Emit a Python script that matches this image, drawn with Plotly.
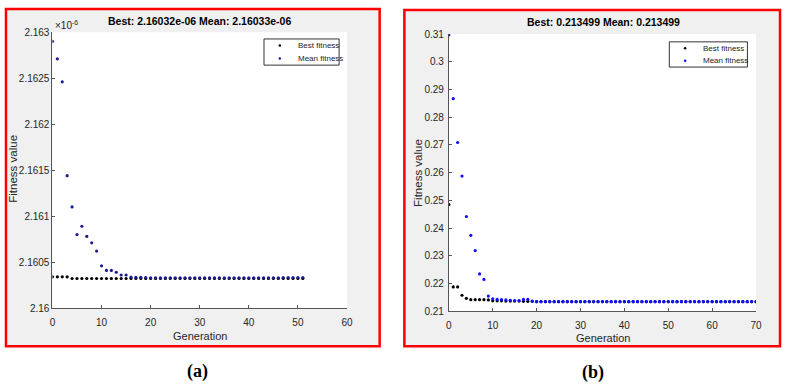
import plotly.graph_objects as go

W, H = 789, 391

# ---------------- data ----------------
gen_a = list(range(0, 52))
best_a = [2.160340] * 4 + [2.160322] * 48          # x 1e-6
mean_a = [2.16290, 2.16271, 2.16246, 2.16144, 2.16110, 2.16080, 2.16089, 2.16078,
          2.16071, 2.16062, 2.16046, 2.16041, 2.16041, 2.16039, 2.16036, 2.16036,
          2.160336, 2.160335, 2.160335, 2.160333] + [2.16033] * 27 + [2.160333] * 5

gen_b = list(range(0, 71))
best_b = [0.2485, 0.2188, 0.2188, 0.2158, 0.2147, 0.2142, 0.2142, 0.2142, 0.2142,
          0.2141, 0.2138, 0.2138, 0.2138, 0.2137, 0.2137, 0.2137, 0.2137, 0.2136,
          0.2136, 0.2136] + [0.2135] * 51
mean_b = [0.3097, 0.2867, 0.2709, 0.2588, 0.2442, 0.2374, 0.2319, 0.2235, 0.2215,
          0.2155, 0.2145, 0.2143, 0.2142, 0.2141, 0.2140, 0.2139, 0.2139, 0.2143,
          0.2143, 0.2137] + [0.2135] * 51

yt_a = [2.16, 2.1605, 2.161, 2.1615, 2.162, 2.1625, 2.163]
yt_a_txt = ["2.16", "2.1605", "2.161", "2.1615", "2.162", "2.1625", "2.163"]
yt_b = [0.21, 0.22, 0.23, 0.24, 0.25, 0.26, 0.27, 0.28, 0.29, 0.30, 0.31]
yt_b_txt = ["0.21", "0.22", "0.23", "0.24", "0.25", "0.26", "0.27", "0.28", "0.29", "0.3", "0.31"]
xt_a = [0, 10, 20, 30, 40, 50, 60]
xt_b = [0, 10, 20, 30, 40, 50, 60, 70]

series_names = ["Best fitness", "Mean fitness"]
title_a = "Best: 2.16032e-06 Mean: 2.16033e-06"
title_b = "Best: 0.213499 Mean: 0.213499"

# ---------------- helpers ----------------
def px(x):
    return x / W

def py(y):
    return 1 - y / H

FONT = "Liberation Sans, Arial, sans-serif"
TXT = "#262626"
MS = 3.2

fig = go.Figure()

fig.add_trace(go.Scatter(x=gen_a, y=best_a, mode="markers", name=series_names[0],
                         marker=dict(color="black", size=MS), xaxis="x", yaxis="y"))
fig.add_trace(go.Scatter(x=gen_a, y=mean_a, mode="markers", name=series_names[1],
                         marker=dict(color="#1c1c8c", size=MS), xaxis="x", yaxis="y"))
fig.add_trace(go.Scatter(x=gen_b, y=best_b, mode="markers", name=series_names[0],
                         marker=dict(color="black", size=MS), xaxis="x2", yaxis="y2"))
fig.add_trace(go.Scatter(x=gen_b, y=mean_b, mode="markers", name=series_names[1],
                         marker=dict(color="#1010ff", size=MS), xaxis="x2", yaxis="y2"))

axis_common = dict(showgrid=False, zeroline=False, showline=True, linecolor="#555555",
                   linewidth=1, ticks="inside", ticklen=3, tickcolor="#555555",
                   tickfont=dict(family=FONT, size=10, color=TXT), mirror=False)

fig.update_layout(
    width=W, height=H, margin=dict(l=0, r=0, t=0, b=0),
    paper_bgcolor="white", plot_bgcolor="white", showlegend=False,
    xaxis=dict(domain=[px(50), px(348)], range=[0, 60], tickvals=xt_a,
               anchor="y", ticklabelstandoff=5, **axis_common),
    yaxis=dict(domain=[py(311.7), py(27)], range=[2.16, 2.163], tickvals=yt_a,
               ticktext=yt_a_txt, anchor="x", **axis_common),
    xaxis2=dict(domain=[px(451), px(761.7)], range=[0, 70], tickvals=xt_b,
                anchor="y2", ticklabelstandoff=5, **axis_common),
    yaxis2=dict(domain=[py(315), py(29)], range=[0.21, 0.31], tickvals=yt_b,
                ticktext=yt_b_txt, anchor="x2", ticklabelstandoff=2, **axis_common),
)

shapes = []
# panel frames (gray figure area with red border)
for x0, y0, x1, y1 in [(3, 3, 381, 351), (406, 4, 786, 351)]:
    shapes.append(dict(type="rect", x0=px(x0), y0=py(y1), x1=px(x1), y1=py(y0),
                       fillcolor="#f0f0f0", line=dict(color="#ff0000", width=2.5)))
# white plot areas
for x0, y0, x1, y1 in [(50, 27, 348, 311.7), (451, 29, 761.7, 315)]:
    shapes.append(dict(type="rect", x0=px(x0), y0=py(y1), x1=px(x1), y1=py(y0),
                       fillcolor="white", line=dict(width=0)))
# legend boxes
legend_boxes = [(264, 34, 340, 61, "#1c1c8c"), (674, 37, 753, 63, "#1010ff")]
ann = []
for (x0, y0, x1, y1, mc) in legend_boxes:
    shapes.append(dict(type="rect", x0=px(x0), y0=py(y1), x1=px(x1), y1=py(y0),
                       fillcolor="white", line=dict(color="#333333", width=1)))
    rowh = (y1 - y0) / 2
    for i, (nm, col) in enumerate(zip(series_names, ["black", mc])):
        cy = y0 + rowh * (i + 0.5)
        cx = x0 + 16
        shapes.append(dict(type="circle", x0=px(cx - 1.3), x1=px(cx + 1.3),
                           y0=py(cy + 1.3), y1=py(cy - 1.3), fillcolor=col,
                           line=dict(width=0)))
        ann.append(dict(x=px(x0 + 32), y=py(cy), text=nm, xanchor="left",
                        font=dict(family=FONT, size=8, color=TXT)))
for s in shapes:
    s.update(xref="paper", yref="paper", layer="below")
fig.update_layout(shapes=shapes)

# titles
ann.append(dict(x=px(199), y=py(15), text="<b>" + title_a + "</b>",
                font=dict(family=FONT, size=10.5, color="black")))
ann.append(dict(x=px(607), y=py(17), text="<b>" + title_b + "</b>",
                font=dict(family=FONT, size=10.5, color="black")))
# exponent
ann.append(dict(x=px(51), y=py(20), xanchor="left", text="×10<sup>-6</sup>",
                font=dict(family=FONT, size=10, color=TXT)))
# y titles
ann.append(dict(x=px(10), y=py(168), text="Fitness value", textangle=-90,
                font=dict(family=FONT, size=11.5, color=TXT)))
ann.append(dict(x=px(420), y=py(172), text="Fitness value", textangle=-90,
                font=dict(family=FONT, size=11.5, color=TXT)))
# x titles
ann.append(dict(x=px(199), y=py(340), text="Generation",
                font=dict(family=FONT, size=11, color=TXT)))
ann.append(dict(x=px(607), y=py(343), text="Generation",
                font=dict(family=FONT, size=11, color=TXT)))
# panel labels
ann.append(dict(x=px(197), y=py(377), text="<b>(a)</b>",
                font=dict(family="Liberation Serif, Times New Roman, serif", size=18, color="black")))
ann.append(dict(x=px(597), y=py(378), text="<b>(b)</b>",
                font=dict(family="Liberation Serif, Times New Roman, serif", size=18, color="black")))

for a in ann:
    a.update(xref="paper", yref="paper", showarrow=False)
    a.setdefault("xanchor", "center")
    a.setdefault("yanchor", "middle")
fig.update_layout(annotations=ann)

fig.write_html("out.html", config={"displayModeBar": False},
               post_script="document.body.style.margin='0';document.body.style.padding='0';document.body.style.overflow='hidden';")
